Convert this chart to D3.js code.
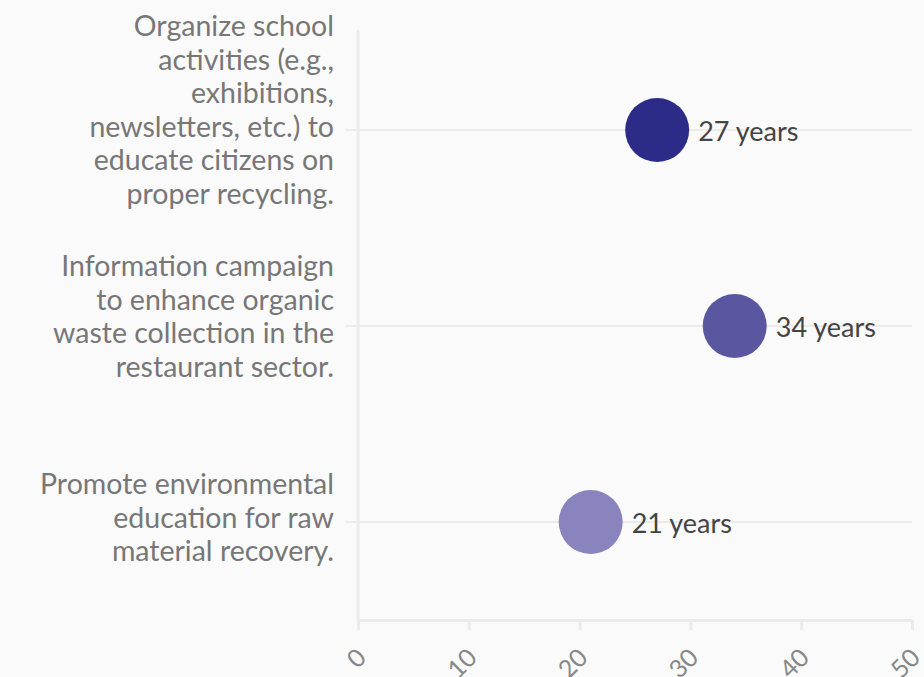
<!DOCTYPE html>
<html>
<head>
<meta charset="utf-8">
<script src="https://cdn.jsdelivr.net/npm/d3@7"></script>
<style>
  html, body { margin: 0; padding: 0; background: #fafafa; }
  svg { display: block; font-family: "Source Sans Pro", Lato, "Open Sans", sans-serif; }
</style>
</head>
<body>
<svg id="chart" width="924" height="677"></svg>
<script>
const categories = [
  "Organize school activities (e.g., exhibitions, newsletters, etc.) to educate citizens on proper recycling.",
  "Information campaign to enhance organic waste collection in the restaurant sector.",
  "Promote environmental education for raw material recovery."
];
const categoryLines = [
  ["Organize school", "activities (e.g.,", "exhibitions,", "newsletters, etc.) to", "educate citizens on", "proper recycling."],
  ["Information campaign", "to enhance organic", "waste collection in the", "restaurant sector."],
  ["Promote environmental", "education for raw", "material recovery."]
];
const values = [27, 34, 21];
const valueLabels = ["27 years", "34 years", "21 years"];
const colors = ["#2c2c88", "#5a56a0", "#8984bd"];
const xTicks = [0, 10, 20, 30, 40, 50];

const svg = d3.select("#chart");
const mLeft = 358, mRight = 912, mTop = 32, mBottom = 620;

const x = d3.scaleLinear().domain([0, 50]).range([mLeft, mRight]);
const y = d3.scalePoint().domain(categories).range([mTop, mBottom]).padding(0.5);

// horizontal grid lines
svg.append("g").selectAll("line").data(categories).join("line")
  .attr("x1", mLeft - 13).attr("x2", mRight)
  .attr("y1", d => y(d)).attr("y2", d => y(d))
  .attr("stroke", "#ebebeb").attr("stroke-width", 2);

// y axis line
svg.append("line")
  .attr("x1", mLeft).attr("x2", mLeft).attr("y1", 30).attr("y2", mBottom)
  .attr("stroke", "#ebebeb").attr("stroke-width", 3);

// x axis
const xAxis = svg.append("g").attr("transform", `translate(0,${mBottom})`)
  .call(d3.axisBottom(x).tickValues(xTicks).tickSize(10).tickSizeOuter(0).tickFormat(d3.format("d")));
xAxis.select(".domain").attr("stroke", "#ebebeb").attr("stroke-width", 3);
xAxis.selectAll(".tick line").attr("stroke", "#ebebeb").attr("stroke-width", 3);
xAxis.selectAll(".tick text")
  .attr("fill", "#888").attr("font-size", 25)
  .attr("font-family", "Lato, sans-serif")
  .attr("text-anchor", "end")
  .attr("dy", "0.35em")
  .attr("transform", "translate(3,33) rotate(-45)")
  .attr("x", 0).attr("y", 0);

// y labels
const lh = 33.5;
const yl = svg.append("g");
categories.forEach((c, i) => {
  const lines = categoryLines[i];
  const n = lines.length;
  const y0 = y(c) - (n - 1) * 22 + 5;
  const t = yl.append("text")
    .attr("text-anchor", "end")
    .attr("fill", "#777")
    .attr("font-size", 28.5)
    .attr("dominant-baseline", "central");
  lines.forEach((ln, j) => {
    t.append("tspan").attr("x", 334).attr("y", y0 + j * lh).text(ln);
  });
});

// dots
svg.append("g").selectAll("circle").data(categories).join("circle")
  .attr("cx", (d, i) => x(values[i]))
  .attr("cy", d => y(d))
  .attr("r", 32)
  .attr("fill", (d, i) => colors[i]);

// value labels
svg.append("g").selectAll("text").data(categories).join("text")
  .attr("x", (d, i) => x(values[i]) + 41)
  .attr("y", d => y(d))
  .attr("dominant-baseline", "central")
  .attr("fill", "#444")
  .attr("font-size", 27)
  .text((d, i) => valueLabels[i]);
</script>
</body>
</html>
